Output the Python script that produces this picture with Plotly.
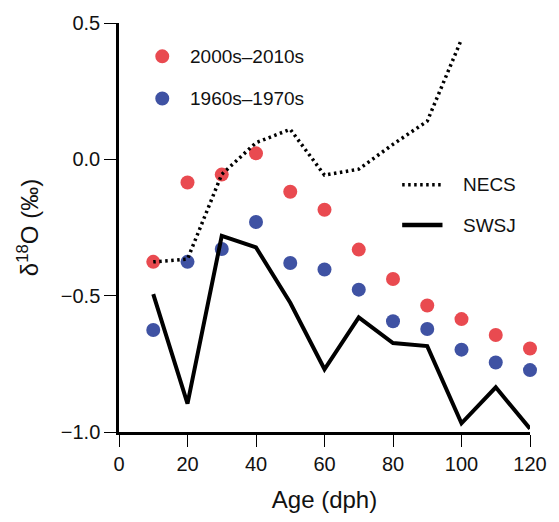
import plotly.graph_objects as go

# ---- data ----
age = [10, 20, 30, 40, 50, 60, 70, 80, 90, 100, 110, 120]
d18o_2000s = [-0.376, -0.085, -0.056, 0.022, -0.119, -0.185, -0.331, -0.439, -0.536, -0.586, -0.644, -0.694]
d18o_1960s = [-0.626, -0.376, -0.329, -0.230, -0.380, -0.404, -0.478, -0.594, -0.622, -0.698, -0.745, -0.773]
necs_age = [10, 20, 30, 40, 50, 60, 70, 80, 90, 100]
necs = [-0.376, -0.366, -0.055, 0.061, 0.110, -0.058, -0.036, 0.055, 0.140, 0.440]
swsj = [-0.494, -0.896, -0.281, -0.323, -0.526, -0.770, -0.580, -0.674, -0.685, -0.968, -0.836, -0.988]
x_ticks = [0, 20, 40, 60, 80, 100, 120]
y_ticks = [-1.0, -0.5, 0.0, 0.5]

RED = "#E94A50"
BLUE = "#3F52A3"
FONT = "Liberation Sans, Arial, Helvetica, sans-serif"

fig = go.Figure()
fig.add_trace(go.Scatter(x=age, y=d18o_2000s, mode="markers", name="2000s–2010s",
                         marker=dict(size=14, color=RED), cliponaxis=False, showlegend=False))
fig.add_trace(go.Scatter(x=age, y=d18o_1960s, mode="markers", name="1960s–1970s",
                         marker=dict(size=14, color=BLUE), cliponaxis=False, showlegend=False))
fig.add_trace(go.Scatter(x=necs_age, y=necs, mode="lines", name="NECS",
                         line=dict(color="black", width=3.5, dash="2.5px,3.5px"),
                         cliponaxis=False, showlegend=False))
fig.add_trace(go.Scatter(x=age, y=swsj, mode="lines", name="SWSJ",
                         line=dict(color="black", width=4), cliponaxis=False, showlegend=False))

L, R, T, B = 119, 22, 23, 82
W, H = 559, 522
pw, ph = W - L - R, H - T - B

def px(x):
    return (x - L) / pw

def py(y):
    return (H - B - y) / ph

shapes = []
annotations = []
# marker legend
for cy, col, txt in [(57, RED, "2000s–2010s"), (100, BLUE, "1960s–1970s")]:
    shapes.append(dict(type="circle", xref="paper", yref="paper", xsizemode="pixel", ysizemode="pixel",
                       xanchor=px(163), yanchor=py(cy), x0=-7, x1=7, y0=-7, y1=7,
                       fillcolor=col, line=dict(width=0)))
    annotations.append(dict(xref="paper", yref="paper", x=px(189), y=py(cy), xanchor="left", yanchor="middle",
                            text=txt, showarrow=False, font=dict(size=19, color="#111", family=FONT)))
# line legend
for cy, dash, wd, txt in [(188, "2.5px,3.5px", 3.5, "NECS"), (229, "solid", 4.5, "SWSJ")]:
    shapes.append(dict(type="line", xref="paper", yref="paper", x0=px(407), x1=px(448), y0=py(cy), y1=py(cy),
                       line=dict(color="black", width=wd, dash=dash)))
    annotations.append(dict(xref="paper", yref="paper", x=px(467), y=py(cy), xanchor="left", yanchor="middle",
                            text=txt, showarrow=False, font=dict(size=19, color="#111", family=FONT)))

fig.update_layout(
    width=W, height=H,
    margin=dict(l=L, r=R, t=T, b=B, pad=0),
    paper_bgcolor="white", plot_bgcolor="white",
    font=dict(family=FONT, color="#111", size=20),
    shapes=shapes, annotations=annotations,
    xaxis=dict(range=[0, 120], tickvals=x_ticks, showgrid=False, zeroline=False,
               showline=True, linecolor="black", linewidth=2.5, ticks="outside", ticklen=12,
               tickwidth=1, tickcolor="black", tickfont=dict(size=20),
               title=dict(text="Age (dph)", font=dict(size=24), standoff=18)),
    yaxis=dict(range=[-1.0, 0.5], tickvals=y_ticks, tickformat=".1f", showgrid=False, zeroline=False,
               showline=True, linecolor="black", linewidth=2.5, ticks="outside", ticklen=12,
               tickwidth=1, tickcolor="black", tickfont=dict(size=20),
               title=dict(text="δ<sup>18</sup>O (‰)", font=dict(size=24), standoff=16)),
    showlegend=False,
)

fig.write_html("out.html", config={"displayModeBar": False},
               post_script="document.body.style.margin='0';document.body.style.overflow='hidden';")
